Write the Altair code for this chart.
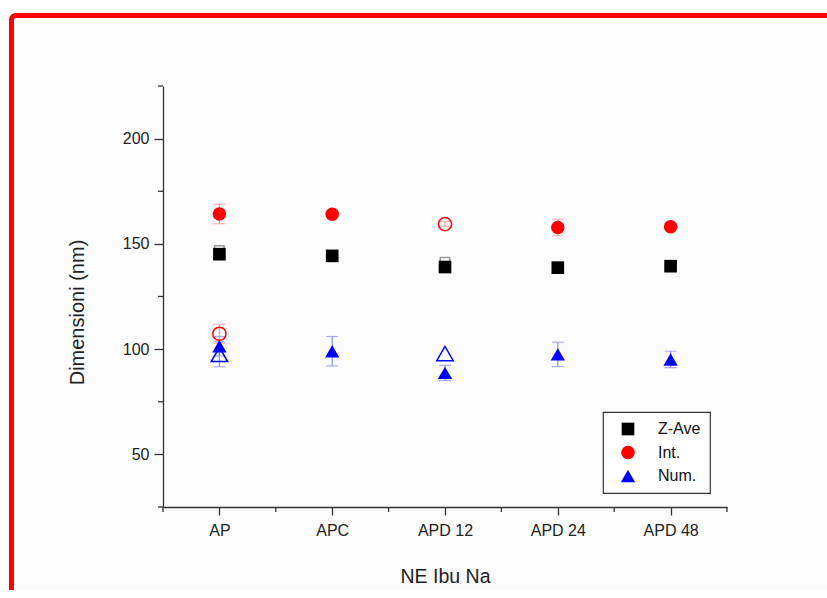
import json
import altair as alt
import pandas as pd

# ---------------- data ----------------
categories = ["AP", "APC", "APD 12", "APD 24", "APD 48"]
cat_index = [1, 2, 3, 4, 5]

series_names = ["Z-Ave", "Int.", "Num."]

# filled symbols (legend series)
zave = [145.1, 144.3, 139.0, 138.7, 139.4]
zave_err = [1.0, 0.8, 1.0, 0.8, 0.8]
int_filled = [164.2, 164.1, None, 157.8, 158.1]
int_filled_err = [4.6, 1.4, None, 3.9, 1.4]
num_filled = [101.4, 99.0, 88.7, 97.5, 95.1]
num_filled_err = [4.6, 7.0, 3.6, 5.8, 3.9]

# open symbols (second set of measurements)
zave_open = [146.8, None, 141.3, None, None]
int_open = [107.3, None, 159.4, None, None]
int_open_err = [4.5, None, 1.2, None, None]
num_open = [97.5, None, 97.9, None, None]
num_open_err = [5.9, None, None, None, None]

y_major = [50, 100, 150, 200]
y_minor = [25, 75, 125, 175, 225]
x_minor = [0.5, 1.5, 2.5, 3.5, 4.5, 5.5]

colors = {"Z-Ave": "#000000", "Int.": "#ff0000", "Num.": "#0000ff"}
err_colors = {"Z-Ave": "#9a9a9a", "Int.": "#ff9a9a", "Num.": "#8a8aff"}
shapes = {"Z-Ave": "square", "Int.": "circle", "Num.": "triangle-up"}
sizes = {"Z-Ave": 160, "Int.": 205, "Num.": 300}

FONT = "Liberation Sans"

# ---------------- tables built from the lists ----------------
filled_rows, open_rows, err_rows = [], [], []
for name, vals, errs in [("Z-Ave", zave, zave_err),
                         ("Int.", int_filled, int_filled_err),
                         ("Num.", num_filled, num_filled_err)]:
    for i, v, e in zip(cat_index, vals, errs):
        if v is None:
            continue
        filled_rows.append({"idx": i, "value": v, "series": name})
        if e:
            err_rows.append({"idx": i, "lo": v - e, "hi": v + e,
                             "ecol": err_colors[name]})

for name, vals, errs in [("Z-Ave", zave_open, [None] * 5),
                         ("Int.", int_open, int_open_err),
                         ("Num.", num_open, num_open_err)]:
    for i, v, e in zip(cat_index, vals, errs):
        if v is None:
            continue
        open_rows.append({"idx": i, "value": v,
                          "col": err_colors[name] if name == "Z-Ave" else colors[name],
                          "shp": shapes[name],
                          "sz": 90 if name == "Z-Ave" else sizes[name] - 30})
        if e:
            err_rows.append({"idx": i, "lo": v - e, "hi": v + e,
                             "ecol": err_colors[name]})

filled_df = pd.DataFrame(filled_rows)
open_df = pd.DataFrame(open_rows)
err_df = pd.DataFrame(err_rows)
cap_df = pd.concat([
    err_df[["idx", "ecol"]].assign(value=err_df["lo"]),
    err_df[["idx", "ecol"]].assign(value=err_df["hi"]),
])

x_scale = alt.Scale(domain=[0.5, 5.5], nice=False, zero=False)
y_scale = alt.Scale(domain=[25, 225], nice=False, zero=False)

label_expr = json.dumps(categories) + "[datum.value - 1]"

W, H = 564, 421

x_axis = alt.Axis(
    values=cat_index, labelExpr=label_expr, grid=False, zindex=2,
    tickSize=8, labelPadding=7, labelFontSize=16, labelFont=FONT,
    labelColor="#222222", domainColor="#333333", tickColor="#333333",
    domainWidth=1.3, tickWidth=1.3,
    title="NE Ibu Na", titleFont=FONT, titleFontSize=19.5,
    titleFontWeight="normal", titleColor="#222222",
    titleBaseline="alphabetic", titleY=75, titleX=W / 2,
)
y_axis = alt.Axis(
    values=y_major, grid=False, zindex=2,
    tickSize=9, labelPadding=5, labelFontSize=16, labelFont=FONT,
    labelColor="#222222", domainColor="#333333", tickColor="#333333",
    domainWidth=1.3, tickWidth=1.3,
    title="Dimensioni (nm)", titleFont=FONT, titleFontSize=20,
    titleFontWeight="normal", titleColor="#222222",
    titleAngle=270, titleAlign="center", titleBaseline="alphabetic",
    titleX=-80, titleY=226,
)

# ---------------- layers ----------------
background = alt.Chart(pd.DataFrame({"a": [0]})).mark_rect(
    fill="#fcfcfc", stroke="#ff0000", strokeWidth=5, cornerRadius=4
).encode(
    x=alt.value(-151.5), x2=alt.value(720),
    y=alt.value(-70.5), y2=alt.value(560),
)

y_minor_ticks = alt.Chart(pd.DataFrame({"value": y_minor})).mark_rule(
    color="#333333", strokeWidth=1.3
).encode(
    y=alt.Y("value:Q", scale=y_scale, axis=y_axis),
    x=alt.value(-5), x2=alt.value(0),
)

x_minor_ticks = alt.Chart(pd.DataFrame({"idx": x_minor})).mark_rule(
    color="#333333", strokeWidth=1.3
).encode(
    x=alt.X("idx:Q", scale=x_scale, axis=x_axis),
    y=alt.value(H), y2=alt.value(H + 5),
)

err_lines = alt.Chart(err_df).mark_rule(strokeWidth=1.2).encode(
    x=alt.X("idx:Q", scale=x_scale, axis=x_axis),
    y=alt.Y("lo:Q", scale=y_scale, axis=y_axis),
    y2="hi:Q",
    color=alt.Color("ecol:N", scale=None),
)

err_caps = alt.Chart(cap_df).mark_tick(
    orient="horizontal", size=12, thickness=1.2
).encode(
    x=alt.X("idx:Q", scale=x_scale, axis=x_axis),
    y=alt.Y("value:Q", scale=y_scale, axis=y_axis),
    color=alt.Color("ecol:N", scale=None),
)

open_pts = alt.Chart(open_df).mark_point(
    filled=False, strokeWidth=1.5, opacity=1
).encode(
    x=alt.X("idx:Q", scale=x_scale, axis=x_axis),
    y=alt.Y("value:Q", scale=y_scale, axis=y_axis),
    color=alt.Color("col:N", scale=None),
    shape=alt.Shape("shp:N", scale=None),
    size=alt.Size("sz:Q", scale=None),
)

filled_pts = alt.Chart(filled_df).mark_point(
    filled=True, opacity=1, strokeWidth=0
).encode(
    x=alt.X("idx:Q", scale=x_scale, axis=x_axis),
    y=alt.Y("value:Q", scale=y_scale, axis=y_axis),
    color=alt.Color("series:N", scale=alt.Scale(
        domain=series_names, range=[colors[s] for s in series_names]),
        legend=alt.Legend(title=None)),
    shape=alt.Shape("series:N", scale=alt.Scale(
        domain=series_names, range=[shapes[s] for s in series_names]),
        legend=alt.Legend(title=None)),
    size=alt.Size("series:N", scale=alt.Scale(
        domain=series_names, range=[sizes[s] for s in series_names]),
        legend=None),
)

chart = alt.layer(
    background, y_minor_ticks, x_minor_ticks, err_lines, err_caps,
    open_pts, filled_pts,
).properties(
    width=W, height=H,
    autosize=alt.AutoSizeParams(type="none"),
    padding={"left": 163, "top": 86, "right": 100, "bottom": 83},
    background="white",
).configure_view(
    stroke=None
).configure_legend(
    orient="none", legendX=440, legendY=326, zindex=3,
    strokeColor="#333333", strokeWidth=1.2, fillColor="white",
    padding=9, rowPadding=7.5, symbolOffset=8, labelOffset=22,
    labelFont=FONT, labelFontSize=16, labelColor="#111111",
    symbolSize=80, symbolStrokeWidth=0, symbolOpacity=1,
)

chart.save("out.html", embed_options={"renderer": "svg", "actions": False})
